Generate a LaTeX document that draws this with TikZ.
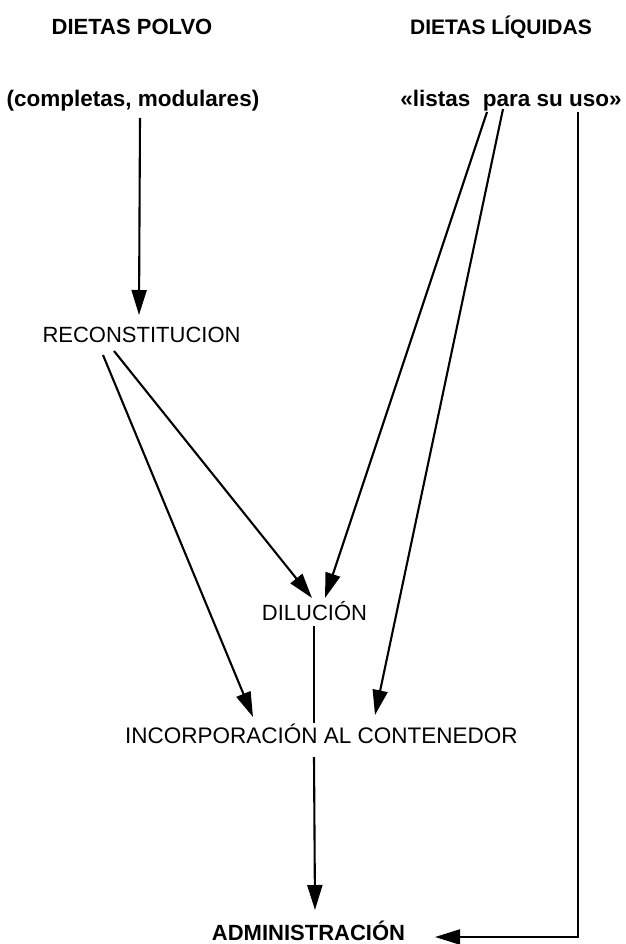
\documentclass[tikz,border=0pt]{standalone}
\usepackage{fontspec}
\setmainfont{Liberation Sans}
\usetikzlibrary{arrows.meta,calc}

\tikzset{
  lbl/.style={inner sep=0pt, anchor=base, font=\fontsize{22}{26}\selectfont},
  head/.style={lbl, font=\fontsize{21}{25}\selectfont\bfseries},
  sub/.style={lbl, font=\fontsize{22.5}{26}\selectfont\bfseries},
  flow/.style={line width=2.1pt, -{Triangle[length=25pt,width=15pt]}},
  plain/.style={line width=2.1pt}
}

\begin{document}
\begin{tikzpicture}[x=1pt,y=-1pt]
\useasboundingbox (0,0) rectangle (625,944);

% column headings
\node[head, font=\fontsize{22}{26}\selectfont\bfseries] (polvo) at (132,35) {DIETAS POLVO};
\node[head] (liquidas) at (501,35)  {DIETAS LÍQUIDAS};
\node[sub]  (completas) at (133,107) {(completas, modulares)};
\node[sub]  (listas)    at (511,107) {«listas\ \ para su uso»};

% processing steps
\node[lbl] (reconst)  at (141.5,342) {RECONSTITUCION};
\node[lbl] (dilucion) at (314.5,620) {DILUCIÓN};
\node[lbl, font=\fontsize{22.5}{26}\selectfont] (incorp) at (321.5,743) {INCORPORACIÓN AL CONTENEDOR};
\node[lbl, font=\fontsize{22}{26}\selectfont\bfseries] (admin) at (308.5,940) {ADMINISTRACIÓN};

% powder diets: reconstitution
\draw[flow] ($(completas.base)+(7,11)$) -- ($(reconst.base)+(-2.5,-27)$);
\draw[flow] ($(reconst.base)+(-27.5,9)$) -- ($(dilucion.base)+(-2.5,-22)$);
\draw[flow] ($(reconst.base)+(-38.5,13)$) -- ($(incorp.base)+(-68.5,-26)$);

% ready-to-use liquid diets
\draw[flow] ($(listas.base)+(-24,5)$) -- ($(dilucion.base)+(10.5,-22)$);
\draw[flow] ($(listas.base)+(-8,2)$) -- ($(incorp.base)+(53.5,-28)$);

% dilution down to administration
\draw[plain] ($(dilucion.base)+(-0.5,6)$) -- ($(incorp.base)+(-7.5,-20)$);
\draw[flow] ($(incorp.base)+(-7.5,14)$) -- ($(admin.base)+(6.5,-30)$);

% direct route to administration
\coordinate (corner) at ($(listas.base)+(67,830)$);
\draw[flow] ($(listas.base)+(67,5)$) -- (corner) -- ($(admin.base)+(126.5,-3)$);
\end{tikzpicture}
\end{document}
